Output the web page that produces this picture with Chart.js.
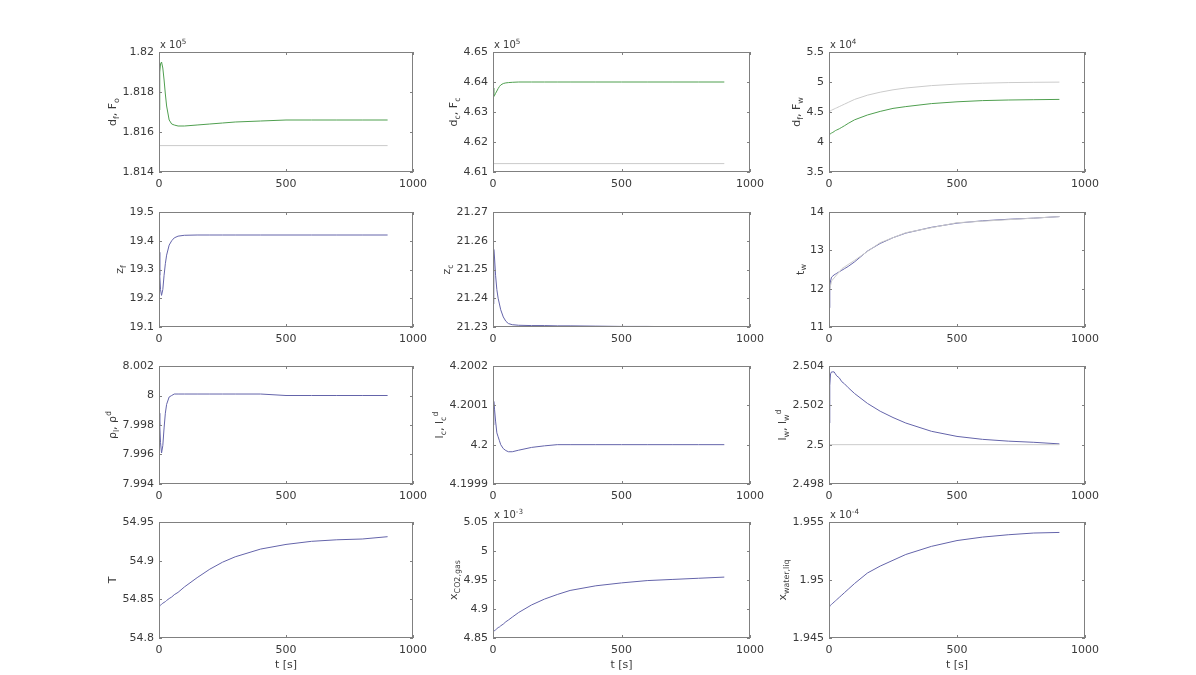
<!DOCTYPE html>
<html><head><meta charset="utf-8">
<script src="https://cdn.jsdelivr.net/npm/chart.js@4"></script>
<style>
html,body{margin:0;padding:0;background:#fff;width:1196px;height:675px;overflow:hidden;position:relative}
canvas{position:absolute}
</style></head><body>
<script>
// ---------- data ----------
const t      = [0,3,6,10,15,20,25,30,40,50,60,75,100,150,200,250,300,400,500,600,700,800,900];
const tRef   = [0,900];
const tRefW  = [0,10,50,100,200,300,500,900];
const xTicks = [0,500,1000];

// row 1 (x 10^5 / x 10^4)
const dfF_sim = [1.8171,1.8190,1.8194,1.8195,1.8192,1.8186,1.8179,1.8173,1.8166,1.8164,1.81635,1.8163,1.8163,1.81635,1.8164,1.81645,1.8165,1.81655,1.8166,1.8166,1.8166,1.8166,1.8166];
const dfF_ref = [1.81532,1.81532];
const dcF_sim = [4.6380,4.6352,4.6355,4.6362,4.6370,4.6378,4.6385,4.6390,4.6395,4.6397,4.6398,4.6399,4.6400,4.6400,4.6400,4.6400,4.6400,4.6400,4.6400,4.6400,4.6400,4.6400,4.6400];
const dcF_ref = [4.6128,4.6128];
const dwF_sim = [4.12,4.13,4.14,4.15,4.16,4.175,4.19,4.20,4.22,4.245,4.27,4.31,4.37,4.45,4.51,4.56,4.59,4.64,4.67,4.69,4.70,4.705,4.71];
const dwF_ref = [4.50,4.51,4.52,4.53,4.54,4.55,4.56,4.57,4.59,4.61,4.63,4.66,4.71,4.78,4.83,4.87,4.90,4.94,4.965,4.98,4.99,4.995,4.998];
// row 2
const zf   = [19.36,19.28,19.23,19.21,19.23,19.28,19.32,19.35,19.385,19.40,19.41,19.416,19.419,19.42,19.42,19.42,19.42,19.42,19.42,19.42,19.42,19.42,19.42];
const zc   = [21.238,21.257,21.254,21.248,21.243,21.240,21.238,21.236,21.2335,21.232,21.2312,21.2308,21.2306,21.2305,21.2305,21.2304,21.2304,21.2303,21.2302,21.2302,21.2301,21.2301,21.2300];
const tw   = [11.5,12.0,12.2,12.3,12.33,12.36,12.38,12.40,12.44,12.48,12.52,12.58,12.70,12.98,13.18,13.33,13.45,13.60,13.71,13.77,13.81,13.84,13.88];
const tw_ref = [11.9,12.2,12.52,12.74,13.2,13.46,13.72,13.88];
// row 3
const rho  = [7.9988,7.9980,7.9968,7.9961,7.9966,7.9978,7.9988,7.9994,7.9999,8.0000,8.0001,8.0001,8.0001,8.0001,8.0001,8.0001,8.0001,8.0001,8.0,8.0,8.0,8.0,8.0];
const lc   = [4.20005,4.20011,4.20009,4.20006,4.20003,4.20002,4.20001,4.2,4.19999,4.199985,4.199982,4.199982,4.199986,4.199993,4.199997,4.2,4.2,4.2,4.2,4.2,4.2,4.2,4.2];
const lw   = [2.5011,2.5030,2.5036,2.5037,2.5037,2.5037,2.5036,2.5035,2.5034,2.5032,2.5031,2.5029,2.5026,2.5021,2.5017,2.50138,2.5011,2.50068,2.50042,2.50027,2.50018,2.50012,2.50004];
const lw_ref = [2.5,2.5];
// row 4
const T      = [54.841,54.8417,54.8425,54.8435,54.845,54.846,54.847,54.8485,54.851,54.853,54.856,54.859,54.866,54.878,54.889,54.898,54.905,54.915,54.921,54.925,54.927,54.928,54.931];
const xCO2   = [4.861,4.862,4.863,4.864,4.866,4.868,4.869,4.871,4.874,4.878,4.881,4.886,4.894,4.907,4.917,4.925,4.932,4.940,4.945,4.949,4.951,4.953,4.955];
const xWater = [1.9477,1.94776,1.94782,1.9479,1.948,1.9481,1.9482,1.9483,1.9485,1.9487,1.9489,1.9492,1.9497,1.9506,1.9512,1.9517,1.9522,1.9529,1.9534,1.9537,1.9539,1.95405,1.9541];

// y tick values
const yt_dfF = [1.814,1.816,1.818,1.82];
const yt_dcF = [4.61,4.62,4.63,4.64,4.65];
const yt_dwF = [3.5,4,4.5,5,5.5];
const yt_zf  = [19.1,19.2,19.3,19.4,19.5];
const yt_zc  = [21.23,21.24,21.25,21.26,21.27];
const yt_tw  = [11,12,13,14];
const yt_rho = [7.994,7.996,7.998,8,8.002];
const yt_lc  = [4.1999,4.2,4.2001,4.2002];
const yt_lw  = [2.498,2.5,2.502,2.504];
const yt_T   = [54.8,54.85,54.9,54.95];
const yt_xC  = [4.85,4.9,4.95,5,5.05];
const yt_xW  = [1.945,1.95,1.955];

// ---------- style ----------
const GREEN='#4f9f4f', BLUE='#6464aa', GRAY='#cbcbcb', TXT='#3a3a3a', AX='#808080';
const FONT='"DejaVu Sans", Arial, sans-serif';
const FS=11;

const panels = [
 {yt:yt_dfF, exp:'5',  ylab:[['d'],['f','b'],[', F'],['o','b']], series:[[tRef,dfF_ref,GRAY],[t,dfF_sim,GREEN]]},
 {yt:yt_dcF, exp:'5',  ylab:[['d'],['c','b'],[', F'],['c','b']], series:[[tRef,dcF_ref,GRAY],[t,dcF_sim,GREEN]]},
 {yt:yt_dwF, exp:'4',  ylab:[['d'],['f','b'],[', F'],['w','b']], series:[[t,dwF_ref,GRAY],[t,dwF_sim,GREEN]]},
 {yt:yt_zf,  exp:null, ylab:[['z'],['f','b']], series:[[t,zf,BLUE]]},
 {yt:yt_zc,  exp:null, ylab:[['z'],['c','b']], series:[[t,zc,BLUE]]},
 {yt:yt_tw,  exp:null, ylab:[['t'],['w','b']], series:[[tRefW,tw_ref,GRAY],[t,tw,BLUE]]},
 {yt:yt_rho, exp:null, ylab:[['ρ'],['l','b'],[', ρ'],['d','p']], series:[[t,rho,BLUE]]},
 {yt:yt_lc,  exp:null, ylab:[['l'],['c','b'],[', l'],['c','b'],['d','p']], series:[[t,lc,BLUE]]},
 {yt:yt_lw,  exp:null, ylab:[['l'],['w','b'],[', l'],['w','b'],['d','p']], series:[[tRef,lw_ref,GRAY],[t,lw,BLUE]]},
 {yt:yt_T,   exp:null, ylab:[['T']], series:[[t,T,BLUE]]},
 {yt:yt_xC,  exp:'-3', ylab:[['x'],['CO2,gas','b']], series:[[t,xCO2,BLUE]]},
 {yt:yt_xW,  exp:'-4', ylab:[['x'],['water,liq','b']], series:[[t,xWater,BLUE]]},
];

const colL=[159,493,829], colR=[413,750,1085];
const rowT=[52,212,366,522], rowB=[172,327,484,638];
const PADL=95, PADT=22, PADR=26;

const fmt = v => String(Number(v.toFixed(6)));

function richWidth(ctx, parts, size){
  let w=0;
  parts.forEach(p=>{ const s=p[1]?size*0.72:size; ctx.font=s+'px '+FONT; w+=ctx.measureText(p[0]).width; });
  return w;
}
function drawRich(ctx, parts, x, y, size){
  parts.forEach(p=>{
    const s=p[1]?size*0.72:size;
    ctx.font=s+'px '+FONT;
    const dy = p[1]==='b'? size*0.3 : (p[1]==='p'? -size*0.4 : 0);
    ctx.fillText(p[0], x, y+dy);
    x+=ctx.measureText(p[0]).width;
  });
}

const framePlugin = {
  id:'frame',
  afterDraw(chart){
    const {ctx, chartArea:a, scales:{x,y}} = chart;
    const p = chart.config.options.panel;
    ctx.save();
    ctx.strokeStyle=AX; ctx.lineWidth=1;
    ctx.strokeRect(a.left+0.5, a.top+0.5, a.right-a.left-1, a.bottom-a.top-1);
    ctx.beginPath();
    const L=3;
    xTicks.forEach(v=>{ const px=Math.round(x.getPixelForValue(v))+0.5;
      ctx.moveTo(px,a.bottom); ctx.lineTo(px,a.bottom-L); ctx.moveTo(px,a.top); ctx.lineTo(px,a.top+L); });
    p.yt.forEach(v=>{ const py=Math.round(y.getPixelForValue(v))+0.5;
      ctx.moveTo(a.left,py); ctx.lineTo(a.left+L,py); ctx.moveTo(a.right,py); ctx.lineTo(a.right-L,py); });
    ctx.stroke();
    ctx.fillStyle=TXT;
    // y label
    ctx.font=FS+'px '+FONT;
    let mw=0; p.yt.forEach(v=>{ mw=Math.max(mw, ctx.measureText(fmt(v)).width); });
    const lx = a.left - 5 - mw - 9;
    ctx.save();
    ctx.translate(lx, (a.top+a.bottom)/2);
    ctx.rotate(-Math.PI/2);
    ctx.textBaseline='middle'; ctx.textAlign='left';
    const w = richWidth(ctx, p.ylab, FS);
    drawRich(ctx, p.ylab, -w/2, 0, FS);
    ctx.restore();
    // exponent
    if(p.exp){
      ctx.textBaseline='alphabetic'; ctx.textAlign='left';
      drawRich(ctx, [['x 10'],[p.exp,'p']], a.left+1, a.top-4, 10);
    }
    // x label
    if(p.xlabel){
      ctx.font=FS+'px '+FONT; ctx.textAlign='center'; ctx.textBaseline='middle';
      ctx.fillText('t [s]', (a.left+a.right)/2, a.bottom+27);
    }
    ctx.restore();
  }
};

panels.forEach((p,i)=>{
  const r=Math.floor(i/3), c=i%3;
  p.xlabel = r===3;
  const pw=colR[c]-colL[c], ph=rowB[r]-rowT[r];
  const bottomH = r===3 ? 40 : 26;
  const W=PADL+pw+PADR, H=PADT+ph+bottomH;
  const cv=document.createElement('canvas');
  cv.width=W; cv.height=H;
  cv.style.left=(colL[c]-PADL)+'px'; cv.style.top=(rowT[r]-PADT)+'px';
  cv.style.width=W+'px'; cv.style.height=H+'px';
  document.body.appendChild(cv);
  new Chart(cv, {
    type:'line',
    data:{datasets:p.series.map(s=>({
      data:s[0].map((xv,k)=>({x:xv, y:s[1][k]})),
      borderColor:s[2], borderWidth:1, pointRadius:0, tension:0, fill:false
    }))},
    options:{
      panel:p,
      responsive:false, animation:false, devicePixelRatio:1,
      layout:{padding:{left:0, top:PADT, right:PADR, bottom:0}},
      plugins:{legend:{display:false}, tooltip:{enabled:false}},
      scales:{
        x:{type:'linear', min:0, max:1000,
           afterBuildTicks:s=>{s.ticks=xTicks.map(v=>({value:v}));},
           afterFit:s=>{s.height=bottomH;},
           grid:{display:false, drawTicks:false}, border:{display:false},
           ticks:{padding:6, color:TXT, font:{family:FONT,size:FS}, maxRotation:0, autoSkip:false, callback:v=>fmt(v)}},
        y:{type:'linear', min:p.yt[0], max:p.yt[p.yt.length-1],
           afterBuildTicks:s=>{s.ticks=p.yt.map(v=>({value:v}));},
           afterFit:s=>{s.width=PADL;},
           grid:{display:false, drawTicks:false}, border:{display:false},
           ticks:{padding:5, color:TXT, font:{family:FONT,size:FS}, autoSkip:false, callback:v=>fmt(v)}}
      }
    },
    plugins:[framePlugin]
  });
});
</script>
</body></html>
